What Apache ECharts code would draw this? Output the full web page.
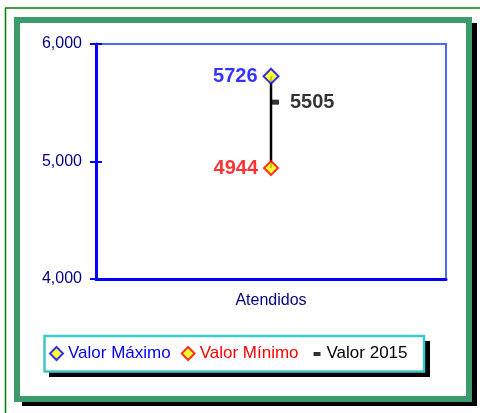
<!DOCTYPE html>
<html>
<head>
<meta charset="utf-8">
<script src="https://cdn.jsdelivr.net/npm/echarts@6/dist/echarts.min.js"></script>
<style>
  html, body { margin: 0; padding: 0; background: #fff; }
  #chart { width: 480px; height: 413px; }
</style>
</head>
<body>
<div id="chart"></div>
<script>
const categories = ['Atendidos'];
const maxValues = [5726];
const minValues = [4944];
const values2015 = [5505];
const yTicks = [4000, 5000, 6000];

const font = '"Liberation Sans", Arial, sans-serif';

document.addEventListener('DOMContentLoaded', () => {
  const chart = echarts.init(document.getElementById('chart'));

  const yAxisBase = {
    type: 'value',
    min: yTicks[0],
    max: yTicks[yTicks.length - 1],
    interval: yTicks[1] - yTicks[0],
    position: 'left',
    offset: 0,
    splitLine: { show: false }
  };

  const dataLabel = (color, position, distance) => ({
    show: true, position, distance,
    color, fontSize: 20, fontWeight: 'bold', fontFamily: font
  });

  const option = {
    animation: false,
    graphic: [
      // thin green page rules
      { type: 'line', z: -10, shape: { x1: 5, y1: 8, x2: 480, y2: 8 }, style: { stroke: '#008000', lineWidth: 1.5 } },
      { type: 'line', z: -10, shape: { x1: 5.5, y1: 8, x2: 5.5, y2: 413 }, style: { stroke: '#008000', lineWidth: 1.5 } },
      // frame shadow + frame
      { type: 'rect', z: -10, shape: { x: 22, y: 23, width: 455, height: 383 }, style: { fill: '#000' } },
      { type: 'rect', z: -9, shape: { x: 17, y: 20, width: 452, height: 379 }, style: { fill: '#fff', stroke: '#3d9a6c', lineWidth: 6 } },
      // legend box shadow + box
      { type: 'rect', z: -8, shape: { x: 49, y: 341, width: 381, height: 36 }, style: { fill: '#000' } },
      { type: 'rect', z: -7, shape: { x: 44.5, y: 336, width: 379.5, height: 35.5 }, style: { fill: '#fff', stroke: '#3cc8c8', lineWidth: 2.5 } }
    ],
    grid: {
      left: 96,
      right: 34,
      top: 44,
      bottom: 134,
      show: true,
      borderColor: '#4f6bff',
      borderWidth: 2,
      backgroundColor: 'transparent'
    },
    legend: {
      left: 49,
      top: 345,
      padding: 0,
      itemWidth: 13,
      itemHeight: 13,
      itemGap: 10,
      selectedMode: false,
      textStyle: { fontSize: 17, fontFamily: font },
      data: [
        {
          name: 'Valor Máximo', icon: 'diamond',
          itemStyle: { color: '#ffff00', borderColor: '#0000ff', borderWidth: 2 },
          textStyle: { color: '#0000ff', fontSize: 17 }
        },
        {
          name: 'Valor Mínimo', icon: 'diamond',
          itemStyle: { color: '#ffff00', borderColor: '#ff0000', borderWidth: 2 },
          textStyle: { color: '#ff0000', fontSize: 17 }
        },
        {
          name: 'Valor 2015', icon: 'path://M0,0M5,5L12,5L12,9L5,9ZM13,13',
          itemStyle: { color: '#000000' },
          textStyle: { color: '#000000', fontSize: 17 }
        }
      ]
    },
    xAxis: [
      {
        type: 'category',
        data: categories,
        position: 'bottom',
        axisLine: { lineStyle: { color: '#0000ff', width: 3 } },
        axisTick: { length: 6, lineStyle: { color: '#0000ff', width: 2 } },
        axisLabel: { color: '#000080', fontSize: 16, fontFamily: font, margin: 14 }
      },
      {
        type: 'category',
        data: categories,
        position: 'bottom',
        offset: 0,
        axisLine: { show: false },
        axisTick: { inside: true, length: 6, lineStyle: { color: '#0000ff', width: 2 } },
        axisLabel: { show: false }
      }
    ],
    yAxis: [
      Object.assign({}, yAxisBase, {
        axisLine: { show: true, lineStyle: { color: '#0000ff', width: 3 } },
        axisTick: { show: true, length: 6, lineStyle: { color: '#0000ff', width: 2 } },
        axisLabel: {
          color: '#000080', fontSize: 16, fontFamily: font, margin: 14,
          formatter: v => v.toLocaleString('en-US')
        }
      }),
      Object.assign({}, yAxisBase, {
        axisLine: { show: false },
        axisTick: { show: true, inside: true, length: 6, lineStyle: { color: '#0000ff', width: 2 } },
        axisLabel: { show: false }
      })
    ],
    series: [
      {
        name: 'hilo',
        type: 'custom',
        z: 1,
        silent: true,
        data: categories.map((c, i) => [i, maxValues[i], minValues[i]]),
        renderItem: (params, api) => {
          const top = api.coord([api.value(0), api.value(1)]);
          const bottom = api.coord([api.value(0), api.value(2)]);
          return {
            type: 'line',
            shape: { x1: top[0], y1: top[1], x2: bottom[0], y2: bottom[1] },
            style: { stroke: '#000', lineWidth: 2.5 }
          };
        }
      },
      {
        name: 'Valor 2015',
        type: 'scatter',
        z: 2,
        data: values2015,
        symbol: 'rect',
        symbolSize: [8, 5],
        symbolOffset: [4, 0],
        itemStyle: { color: '#000' },
        label: dataLabel('#000000', 'right', 11)
      },
      {
        name: 'Valor Máximo',
        type: 'scatter',
        z: 3,
        data: maxValues,
        symbol: 'diamond',
        symbolSize: 15,
        itemStyle: { color: '#ffff00', borderColor: '#0000ff', borderWidth: 2 },
        label: dataLabel('#0000ff', 'left', 5)
      },
      {
        name: 'Valor Mínimo',
        type: 'scatter',
        z: 3,
        data: minValues,
        symbol: 'diamond',
        symbolSize: 14,
        itemStyle: { color: '#ffff00', borderColor: '#ff0000', borderWidth: 2 },
        label: dataLabel('#ff0000', 'left', 5)
      }
    ]
  };

  chart.setOption(option);
});
</script>
</body>
</html>
